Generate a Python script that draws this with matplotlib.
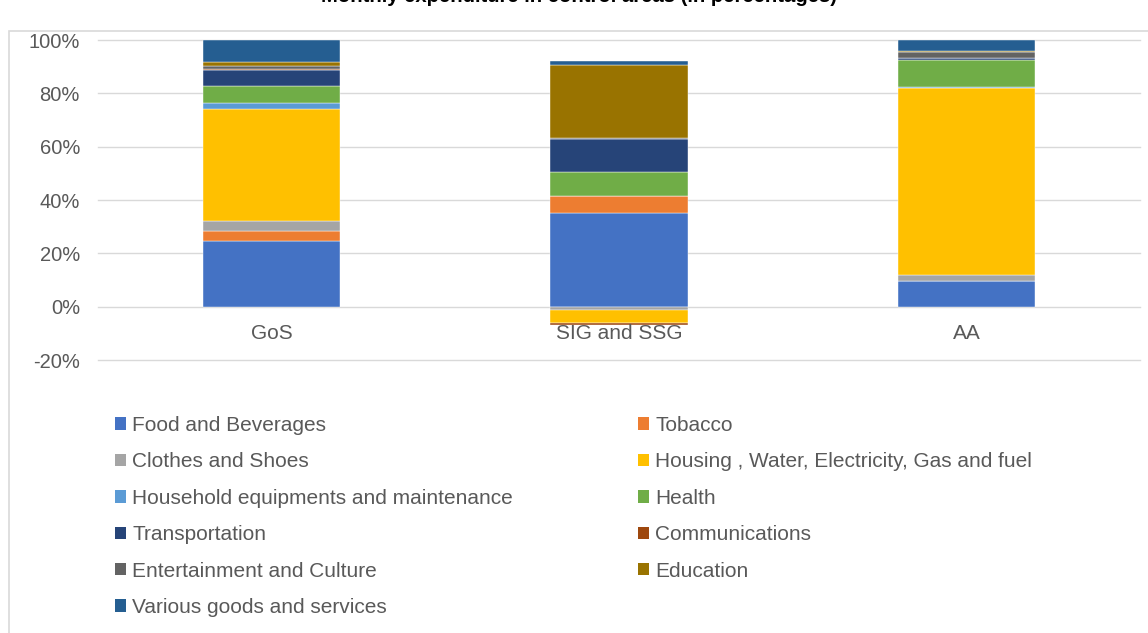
import matplotlib
matplotlib.use("Agg")
import matplotlib.pyplot as plt
from matplotlib.patches import Patch, Rectangle
from matplotlib.ticker import PercentFormatter
import numpy as np

plt.rcParams['font.family'] = ['Liberation Sans', 'DejaVu Sans']
plt.rcParams['axes.unicode_minus'] = False

# Areas and expenditure shares (%)
areas = ['GoS', 'SIG and SSG', 'AA']
categories = [
    'Food and Beverages', 'Tobacco', 'Clothes and Shoes',
    'Housing , Water, Electricity, Gas and fuel',
    'Household equipments and maintenance', 'Health', 'Transportation',
    'Communications', 'Entertainment and Culture', 'Education',
    'Various goods and services',
]
food = [24.5, 35.0, 9.5]
tobacco = [3.7, 6.4, 0.2]
clothes = [4.0, -1.2, 2.0]
housing = [42.0, -5.1, 70.3]
household = [2.1, 0.2, 0.3]
health = [6.6, 8.8, 10.3]
transport = [6.0, 12.6, 0.5]
communications = [0.1, -0.6, 0.1]
entertainment = [1.3, 0.1, 2.2]
education = [1.6, 27.7, 0.6]
various = [8.1, 1.5, 4.0]

series = [food, tobacco, clothes, housing, household, health, transport,
          communications, entertainment, education, various]
colors = ['#4472C4', '#ED7D31', '#A5A5A5', '#FFC000', '#5B9BD5', '#70AD47',
          '#264478', '#9E480E', '#636363', '#997300', '#255E91']

fig = plt.figure(figsize=(11.48, 6.33), dpi=100)
ax = fig.add_axes([98 / 1148, 1 - 360 / 633, 1042 / 1148, 320 / 633])

x = np.arange(len(areas))
pos_base = np.zeros(len(areas))
neg_base = np.zeros(len(areas))
for vals, col in zip(series, colors):
    v = np.array(vals, dtype=float)
    base = np.where(v >= 0, pos_base, neg_base)
    ax.bar(x, v, width=0.395, bottom=base, color=col,
           edgecolor='white', linewidth=0.3, zorder=3)
    pos_base += np.where(v >= 0, v, 0)
    neg_base += np.where(v < 0, v, 0)

ax.set_xlim(-0.5, 2.5)
ax.set_ylim(-20, 100)
ax.set_yticks(np.arange(-20, 101, 20))
ax.yaxis.set_major_formatter(PercentFormatter(decimals=0))
ax.tick_params(axis='y', length=0, pad=13, labelsize=14.5, labelcolor='#595959')
ax.set_xticks([])
ax.grid(axis='y', color='#D9D9D9', linewidth=1.0, zorder=0)
for gl in ax.get_ygridlines():
    gl.set_clip_on(False)
for s in ax.spines.values():
    s.set_visible(False)

# category labels sit just under the zero line
for xi, name in zip(x, areas):
    ax.annotate(name, (xi, 0), xytext=(0, -19), textcoords='offset points',
                ha='center', va='center', fontsize=15, color='#595959')

# chart frame
fig.add_artist(Rectangle((9 / 1148, -0.1), 1.2, 1 - 31 / 633 + 0.1,
                         transform=fig.transFigure, fill=False,
                         edgecolor='#D9D9D9', linewidth=1.2))

fig.text(0.504, 1 - 2.5 / 633, 'Monthly expenditure in control areas (in percentages)',
         ha='center', va='baseline', fontsize=14.6, fontweight='bold')

handles = [Patch(facecolor=c, edgecolor='none') for c in colors]
left_idx = [0, 2, 4, 6, 8, 10]
right_idx = [1, 3, 5, 7, 9]
common = dict(frameon=False, fontsize=15, labelcolor='#595959',
              handlelength=0.53, handleheight=0.53, handletextpad=0.3,
              labelspacing=0.835, borderpad=0, borderaxespad=0)
fig.legend([handles[i] for i in left_idx], [categories[i] for i in left_idx],
           loc='upper left', bbox_to_anchor=(115 / 1148, 1 - 416 / 633), **common)
fig.legend([handles[i] for i in right_idx], [categories[i] for i in right_idx],
           loc='upper left', bbox_to_anchor=(638 / 1148, 1 - 416 / 633), **common)

fig.savefig('out.png', dpi=100)
